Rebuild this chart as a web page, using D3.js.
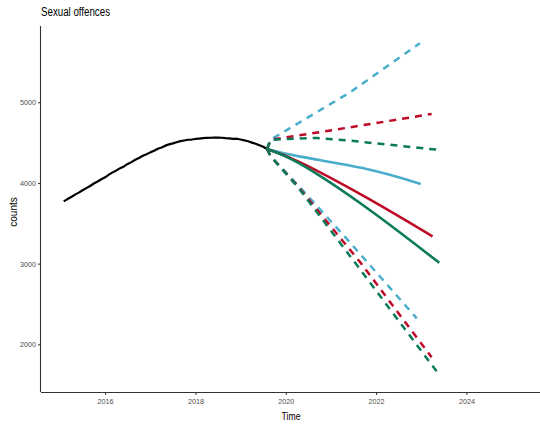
<!DOCTYPE html>
<html><head><meta charset="utf-8">
<script src="https://cdn.jsdelivr.net/npm/d3@7"></script>
<style>body{margin:0;background:#fff}svg{display:block}</style>
</head><body>
<script>
// Observed monthly counts, Feb 2015 .. Aug 2019
const obsStart = 2015 + 1/12;
const observed = [3772,3800,3826,3855,3880,3910,3936,3962,3993,4018,4046,4070,4103,4131,
  4155,4183,4205,4236,4258,4287,4310,4336,4355,4379,4398,4423,4440,4462,4478,4490,4505,4518,
  4526,4535,4538,4545,4550,4556,4558,4560,4562,4561,4560,4555,4552,4546,4548,4538,4528,4516,
  4500,4485,4466,4448,4421];
const seriesNames = ["blue","red","green"];
const colors = ["#49AECB","#BE0A26","#0B7A59"];
// forecast mean lines [time, value]
const meanBlue  = [[2019.583,4421],[2020.32,4326],[2021.79,4173],[2022.99,3988]];
const meanRed   = [[2019.583,4421],[2020.32,4255],[2021.79,3818],[2023.25,3338]];
const meanGreen = [[2019.583,4421],[2020.32,4235],[2021.79,3692],[2023.40,3010]];
// upper bounds
const upBlue  = [[2019.583,4421],[2019.667,4537],[2021.42,5122],[2022.97,5731]];
const upRed   = [[2019.583,4421],[2019.667,4535],[2021.42,4689],[2023.23,4855]];
const upGreen = [[2019.583,4421],[2019.667,4535],[2020.69,4558],[2021.42,4524],[2023.33,4413]];
// lower bounds
const loBlue  = [[2019.583,4421],[2019.667,4330],[2020.28,3967],[2021.42,3264],[2022.9,2322]];
const loRed   = [[2019.583,4421],[2019.667,4330],[2020.28,3950],[2021.65,3016],[2023.23,1839]];
const loGreen = [[2019.583,4421],[2019.667,4330],[2020.28,3940],[2021.6,2963],[2023.4,1621]];
const xTicks = [2016,2018,2020,2022,2024];
const yTicks = [2000,3000,4000,5000];

const W=540,H=428;
const svg=d3.select("body").append("svg").attr("width",W).attr("height",H);
const x=d3.scaleLinear().domain([2014.58,2025.63]).range([41,540]);
const y=d3.scaleLinear().domain([1409,5945]).range([392,26]);

const line=d3.line().x(d=>x(d[0])).y(d=>y(d[1]));
const smooth=d3.line().x(d=>x(d[0])).y(d=>y(d[1])).curve(d3.curveNatural);
const font="Liberation Sans, Arial, sans-serif";

// title
svg.append("text").attr("x",41).attr("y",16).attr("font-family",font)
  .attr("font-size",12).attr("fill","#000").attr("textLength",69).attr("lengthAdjust","spacingAndGlyphs")
  .text("Sexual offences");

// axes
const xa=svg.append("g").attr("transform","translate(0,392)")
  .call(d3.axisBottom(x).tickValues(xTicks).tickFormat(d3.format("d")).tickSize(3).tickPadding(3));
const ya=svg.append("g").attr("transform","translate(41,0)")
  .call(d3.axisLeft(y).tickValues(yTicks).tickFormat(d3.format("d")).tickSize(3).tickPadding(2));
[xa,ya].forEach(g=>{
  g.select(".domain").attr("stroke","#333").attr("stroke-width",1.1);
  g.selectAll(".tick line").attr("stroke","#333");
  g.selectAll(".tick text").attr("fill","#4d4d4d").attr("font-size",8)
   .attr("font-family",font)
   .attr("textLength",16).attr("lengthAdjust","spacingAndGlyphs");
});
xa.select(".domain").attr("d","M41,0.5H540");
ya.select(".domain").attr("d","M-0.5,26V392");

svg.append("text").attr("x",291).attr("y",420).attr("text-anchor","middle")
  .attr("font-family",font).attr("font-size",11)
  .attr("textLength",19).attr("lengthAdjust","spacingAndGlyphs").text("Time");
svg.append("text").attr("transform","translate(17,212) rotate(-90)").attr("text-anchor","middle")
  .attr("font-family",font).attr("font-size",10).text("counts");

// observed
const obs=observed.map((v,i)=>[obsStart+i/12,v]);
svg.append("path").datum(obs).attr("d",line).attr("fill","none").attr("stroke","#000")
  .attr("stroke-width",2.2).attr("stroke-linejoin","round");

const means=[meanBlue,meanRed,meanGreen];
const ups=[upBlue,upRed,upGreen];
const los=[loBlue,loRed,loGreen];
seriesNames.forEach((n,i)=>{
  [ups[i],los[i]].forEach(s=>{
    svg.append("path").datum(s).attr("d",line).attr("fill","none")
      .attr("stroke",colors[i]).attr("stroke-width",2.5).attr("stroke-dasharray","7,6");
  });
});
seriesNames.forEach((n,i)=>{
  svg.append("path").datum(means[i]).attr("d",smooth).attr("fill","none")
    .attr("stroke",colors[i]).attr("stroke-width",2.6);
});
</script>
</body></html>
